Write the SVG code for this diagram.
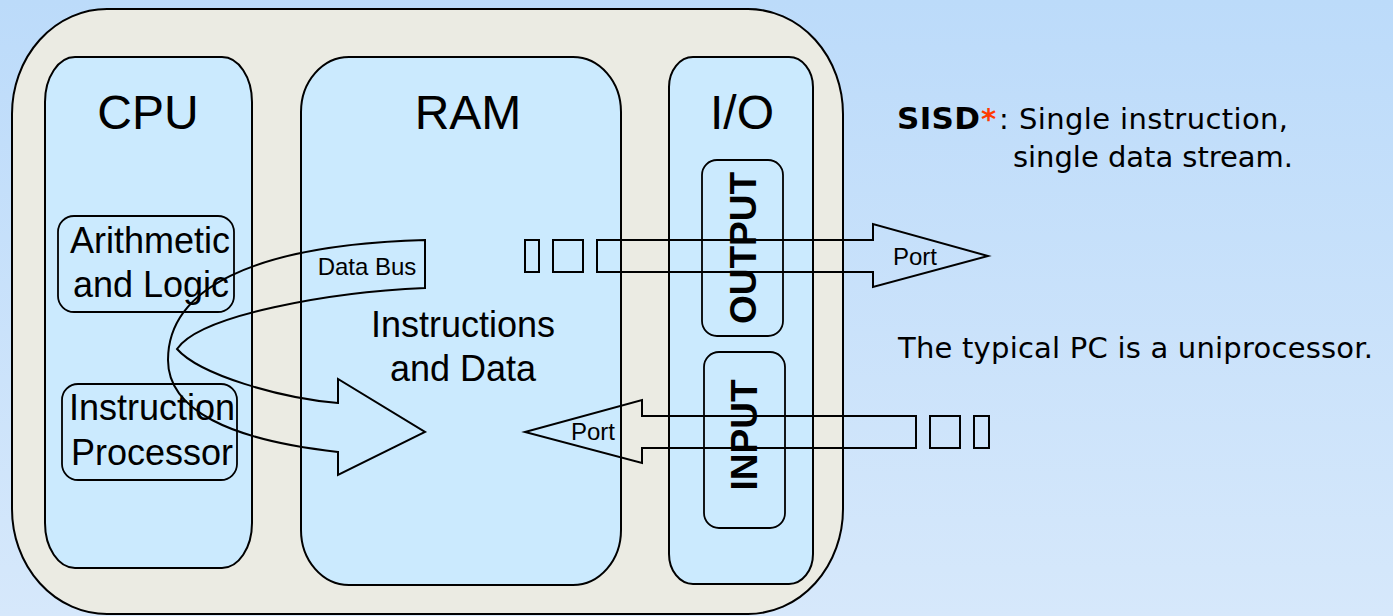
<svg xmlns="http://www.w3.org/2000/svg" width="1393" height="616" viewBox="0 0 1393 616">
  <defs>
    <linearGradient id="bg" x1="0" y1="0" x2="0" y2="1">
      <stop offset="0" stop-color="#bcdbfa"/>
      <stop offset="1" stop-color="#d6e8fb"/>
    </linearGradient>
    <style>
      .shell { fill: #ebebe3; stroke: #000; stroke-width: 2; }
      .col { fill: #cbeafe; stroke: #000; stroke-width: 2; }
      .unit { fill: none; stroke: #000; stroke-width: 1.8; }
      .flow { fill: none; stroke: #000; stroke-width: 2; stroke-linejoin: miter; }
      .cell { fill: none; stroke: #000; stroke-width: 2; }
      .t { font-family: "Liberation Sans", Arial, sans-serif; fill: #000; }
      .title { font-size: 48px; text-anchor: middle; }
      .body { font-size: 36px; text-anchor: middle; }
      .small { font-size: 24px; text-anchor: middle; }
      .vert { font-size: 37px; font-weight: bold; text-anchor: middle; }
      .note { font-family: "DejaVu Sans", "Noto Sans", sans-serif; font-size: 29px; fill: #000; }
    </style>
  </defs>

  <!-- backdrop -->
  <rect x="0" y="0" width="1393" height="616" fill="url(#bg)"/>

  <!-- computer enclosure -->
  <g id="computer">
    <rect class="shell" x="12" y="9" width="831" height="605" rx="95" ry="105"/>
  </g>

  <!-- CPU column -->
  <g id="cpu">
    <rect class="col" x="45" y="57" width="207" height="511" rx="30" ry="45"/>
    <text class="t title" x="148" y="129">CPU</text>
  </g>
  <g id="alu">
    <rect class="unit" x="58" y="216" width="176" height="96" rx="16"/>
    <text class="t body" x="150" y="253">Arithmetic</text>
    <text class="t body" x="151" y="297">and Logic</text>
  </g>
  <g id="instruction-processor">
    <rect class="unit" x="62" y="384" width="175" height="96" rx="16"/>
    <text class="t body" x="152" y="420">Instruction</text>
    <text class="t body" x="152" y="465">Processor</text>
  </g>

  <!-- RAM column -->
  <g id="ram">
    <rect class="col" x="301" y="57" width="320" height="528" rx="48" ry="55"/>
    <text class="t title" x="468" y="129">RAM</text>
    <text class="t body" x="463" y="337">Instructions</text>
    <text class="t body" x="463" y="381">and Data</text>
  </g>

  <!-- I/O column -->
  <g id="io">
    <rect class="col" x="669" y="57" width="144" height="527" rx="24" ry="30"/>
    <text class="t title" x="742" y="129">I/O</text>
  </g>
  <g id="output">
    <rect class="unit" x="702" y="160" width="81" height="176" rx="15"/>
    <text class="t vert" x="756" y="248" transform="rotate(-90 756 248)">OUTPUT</text>
  </g>
  <g id="input">
    <rect class="unit" x="704" y="352" width="81" height="176" rx="15"/>
    <text class="t vert" x="757" y="435" transform="rotate(-90 757 435)">INPUT</text>
  </g>

  <!-- connectors -->
  <g id="connectors">
    <!-- data bus: loops from RAM through the CPU and back into RAM -->
    <g id="data-bus">
      <path class="flow" d="M425,240 L425,288 C330,292 200,315 177,349 C200,375 280,398 338,403 L338,379 L425,432 L338,475 L338,452 C230,440 168,410 168,360 C168,290 250,245 425,240 Z"/>
      <text class="t small" x="367" y="275">Data Bus</text>
    </g>
    <!-- output port stream -->
    <g id="output-port">
      <rect class="cell" x="525" y="240" width="14" height="32"/>
      <rect class="cell" x="553" y="240" width="30" height="32"/>
      <path class="flow" d="M597,240 L873,240 L873,224 L988,256 L873,287 L873,272 L597,272 Z"/>
      <text class="t small" x="915" y="265">Port</text>
    </g>
    <!-- input port stream -->
    <g id="input-port">
      <path class="flow" d="M916,416 L642,416 L642,400 L525,432 L642,463 L642,448 L916,448 Z"/>
      <rect class="cell" x="930" y="416" width="30" height="32"/>
      <rect class="cell" x="974" y="416" width="15" height="32"/>
      <text class="t small" x="593" y="440">Port</text>
    </g>
  </g>

  <!-- notes -->
  <g id="notes">
    <text class="note" y="129">
      <tspan x="897" font-weight="bold" font-size="31" textLength="83">SISD</tspan><tspan x="981" fill="#ff3a00" font-weight="bold">*</tspan><tspan x="999">:</tspan><tspan x="1019" textLength="269">Single instruction,</tspan>
    </text>
    <text class="note" x="1013" y="167" textLength="280">single data stream.</text>
    <text class="note" x="898" y="358" textLength="475">The typical PC is a uniprocessor.</text>
  </g>
</svg>
